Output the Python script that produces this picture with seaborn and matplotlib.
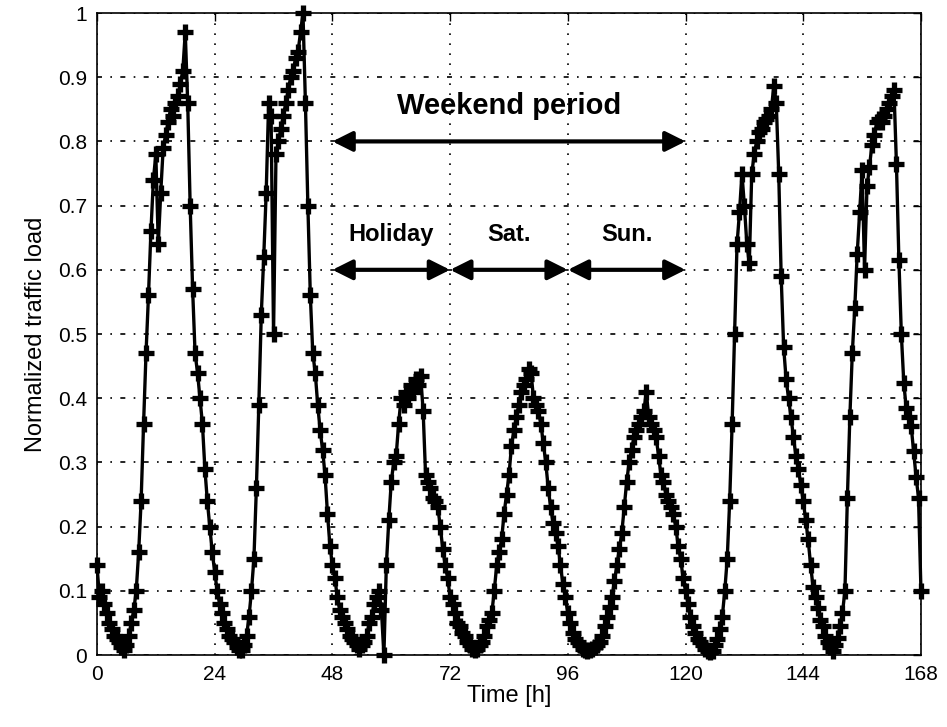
import numpy as np
import pandas as pd
import matplotlib
matplotlib.use("Agg")
import matplotlib.pyplot as plt
import seaborn as sns

# normalized traffic load, one sample every 30 min
day1 = [0.14, 0.09, 0.10, 0.08, 0.065, 0.05, 0.04, 0.03, 0.025, 0.02, 0.012, 0.008,
        0.015, 0.03, 0.05, 0.07, 0.10, 0.16, 0.24, 0.36, 0.47, 0.56, 0.66, 0.74,
        0.78, 0.64, 0.72, 0.79, 0.81, 0.83, 0.85, 0.84, 0.86, 0.87, 0.89, 0.91,
        0.97, 0.86, 0.70, 0.57, 0.47, 0.44, 0.40, 0.36, 0.29, 0.24, 0.20, 0.16]
day2 = [0.13, 0.10, 0.08, 0.065, 0.05, 0.04, 0.03, 0.025, 0.02, 0.012, 0.008, 0.008,
        0.015, 0.03, 0.06, 0.10, 0.15, 0.26, 0.39, 0.53, 0.62, 0.72, 0.86, 0.84,
        0.50, 0.78, 0.80, 0.82, 0.84, 0.86, 0.88, 0.90, 0.91, 0.93, 0.94, 0.97,
        1.0, 0.86, 0.70, 0.56, 0.47, 0.44, 0.39, 0.35, 0.32, 0.28, 0.22, 0.17]
day3 = [0.14, 0.12, 0.09, 0.07, 0.06, 0.05, 0.04, 0.03, 0.025, 0.02, 0.015, 0.01,
        0.015, 0.02, 0.03, 0.05, 0.06, 0.08, 0.09, 0.10, 0.07, 0.0, 0.14, 0.21,
        0.27, 0.30, 0.31, 0.36, 0.40, 0.39, 0.41, 0.40, 0.42, 0.41, 0.43, 0.42,
        0.435, 0.38, 0.28, 0.27, 0.26, 0.245, 0.24, 0.23, 0.20, 0.165, 0.14, 0.12]
day4 = [0.09, 0.08, 0.065, 0.05, 0.045, 0.035, 0.03, 0.02, 0.015, 0.01, 0.008, 0.01,
        0.015, 0.02, 0.03, 0.045, 0.055, 0.065, 0.10, 0.14, 0.16, 0.18, 0.22, 0.25,
        0.28, 0.325, 0.35, 0.37, 0.39, 0.41, 0.42, 0.43, 0.445, 0.44, 0.40, 0.39,
        0.38, 0.36, 0.33, 0.30, 0.26, 0.23, 0.205, 0.19, 0.17, 0.14, 0.11, 0.09]
day5 = [0.065, 0.05, 0.035, 0.025, 0.02, 0.015, 0.01, 0.008, 0.006, 0.008, 0.01, 0.012,
        0.015, 0.02, 0.03, 0.045, 0.06, 0.075, 0.09, 0.115, 0.14, 0.165, 0.19, 0.23,
        0.27, 0.30, 0.32, 0.34, 0.35, 0.36, 0.37, 0.38, 0.41, 0.37, 0.36, 0.35,
        0.34, 0.31, 0.28, 0.27, 0.25, 0.24, 0.23, 0.22, 0.20, 0.17, 0.15, 0.12]
day6 = [0.10, 0.08, 0.06, 0.045, 0.035, 0.025, 0.02, 0.015, 0.01, 0.006, 0.004, 0.006,
        0.015, 0.025, 0.04, 0.06, 0.10, 0.15, 0.24, 0.36, 0.50, 0.64, 0.69, 0.75,
        0.70, 0.64, 0.61, 0.75, 0.78, 0.80, 0.815, 0.82, 0.83, 0.835, 0.84, 0.85,
        0.887, 0.86, 0.75, 0.59, 0.48, 0.43, 0.40, 0.37, 0.34, 0.31, 0.29, 0.265]
day7 = [0.24, 0.21, 0.18, 0.14, 0.106, 0.09, 0.073, 0.055, 0.045, 0.03, 0.02, 0.012,
        0.007, 0.015, 0.026, 0.045, 0.066, 0.10, 0.245, 0.37, 0.47, 0.54, 0.625, 0.69,
        0.755, 0.60, 0.73, 0.76, 0.795, 0.81, 0.83, 0.835, 0.83, 0.84, 0.85, 0.86,
        0.87, 0.88, 0.765, 0.616, 0.50, 0.424, 0.384, 0.37, 0.357, 0.318, 0.278, 0.245,
        0.10]

load = day1 + day2 + day3 + day4 + day5 + day6 + day7
hours = np.arange(len(load)) * 0.5

xticks = [0, 24, 48, 72, 96, 120, 144, 168]
yticks = [0, 0.1, 0.2, 0.3, 0.4, 0.5, 0.6, 0.7, 0.8, 0.9, 1]
ytick_labels = ["0", "0.1", "0.2", "0.3", "0.4", "0.5", "0.6", "0.7", "0.8", "0.9", "1"]

# annotation spans (hours)
weekend = (48, 120)
periods = {"Holiday": (48, 72), "Sat.": (72, 96), "Sun.": (96, 120)}

df = pd.DataFrame({"Time": hours, "Load": load})

sns.set_style("white")
plt.rcParams["font.family"] = ["Liberation Sans", "DejaVu Sans"]

fig = plt.figure(figsize=(9.47, 7.27), dpi=100)
ax = fig.add_axes([0.1024, 0.099, 0.8701, 0.8831])

sns.lineplot(data=df, x="Time", y="Load", ax=ax, color="black", linewidth=2.4,
             marker="+", markersize=12, markeredgewidth=3.8, markeredgecolor="black",
             estimator=None, sort=False, clip_on=False, zorder=5)

ax.set_xlim(0, 168)
ax.set_ylim(0, 1)
ax.set_xticks(xticks)
ax.set_yticks(yticks)
ax.set_yticklabels(ytick_labels)
ax.tick_params(direction="in", length=6, width=1, top=True, right=True,
               labelsize=15, colors="black", pad=7)
for s in ax.spines.values():
    s.set_color("black")
    s.set_linewidth(1.2)

ax.xaxis.grid(True, color="black", linestyle=(0, (1, 5)), linewidth=1.2)
ax.yaxis.grid(True, color="black", linestyle=(0, (3, 5, 1, 5)), linewidth=1.2)
ax.set_axisbelow(True)

ax.set_xlabel("Time [h]", fontsize=17, labelpad=1, color="black")
ax.set_ylabel("Normalized traffic load", fontsize=17, labelpad=8, color="black")

arrow_kw = dict(arrowstyle="<|-|>", color="black", lw=3, mutation_scale=30,
                shrinkA=0, shrinkB=0)
ax.annotate("", xy=(weekend[1], 0.80), xytext=(weekend[0], 0.80), arrowprops=arrow_kw)
ax.text(sum(weekend) / 2, 0.855, "Weekend period", ha="center", va="center",
        fontsize=21, fontweight="bold", color="black")
for name, (a, b) in periods.items():
    ax.annotate("", xy=(b, 0.60), xytext=(a, 0.60), arrowprops=arrow_kw)
    ax.text((a + b) / 2, 0.655, name, ha="center", va="center",
            fontsize=17, fontweight="bold", color="black")

fig.savefig("out.png", dpi=100)
